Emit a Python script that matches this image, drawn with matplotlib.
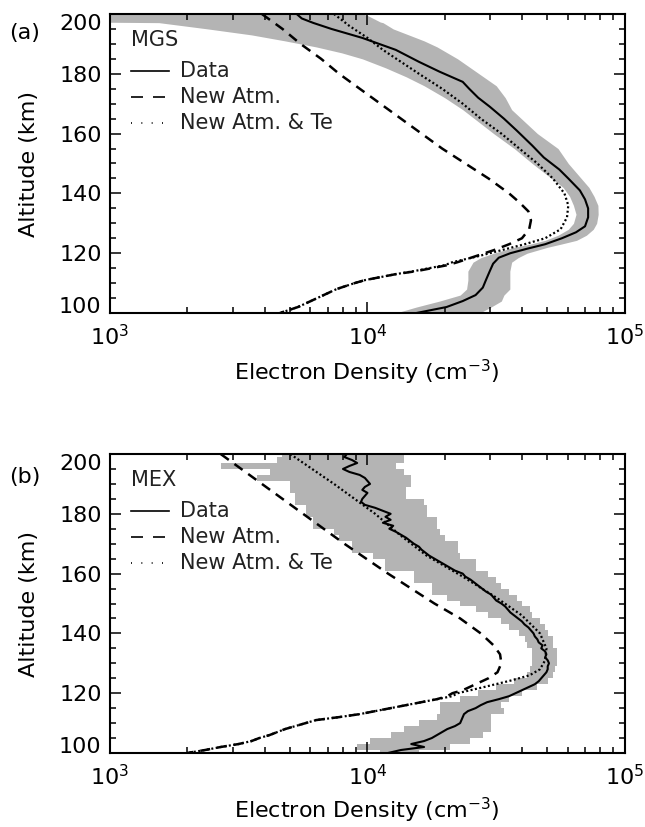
"""
    Electron density profiles, MGS and MEX
"""

import numpy as np
import matplotlib
matplotlib.use('Agg')
import matplotlib.pyplot as plt
from matplotlib.ticker import MultipleLocator, LogLocator, NullFormatter

plt.rcParams['font.family'] = ['DejaVu Sans']

# ---- panel (a): MGS, values are log10(Ne) ----
mgs_data_alt = [200, 198.5, 197, 195, 192, 188, 184, 180.7, 177.3, 175, 172, 169, 165, 161, 156, 152,
                148, 145, 141, 138, 135, 132, 129, 127, 125, 123, 121.5, 120, 118.5, 116.5, 114, 111,
                108.5, 106, 104, 102, 100]
mgs_data_log = [3.725, 3.745, 3.79, 3.86, 3.98, 4.11, 4.20, 4.28, 4.37, 4.395, 4.43, 4.475, 4.53, 4.58,
                4.64, 4.685, 4.745, 4.78, 4.825, 4.845, 4.857, 4.857, 4.845, 4.81, 4.755, 4.69, 4.62,
                4.555, 4.51, 4.488, 4.475, 4.46, 4.448, 4.42, 4.37, 4.307, 4.19]

mgs_band_alt = [200, 199.5, 197.3, 197.1, 195, 193, 191, 189, 187, 185, 182, 179, 176, 172, 168, 164,
                160, 155, 150, 146, 142, 139, 136, 133, 130, 128, 126, 124.3, 123, 122, 121, 120,
                118.5, 117, 114, 111, 108, 106, 104, 102, 100]
mgs_band_lo = [2.9, 2.9, 2.9, 3.19, 3.38, 3.55, 3.68, 3.80, 3.90, 3.98, 4.07, 4.15, 4.22, 4.30, 4.37,
               4.43, 4.49, 4.57, 4.64, 4.70, 4.76, 4.785, 4.80, 4.81, 4.80, 4.78, 4.74, 4.69, 4.63,
               4.57, 4.53, 4.49, 4.44, 4.41, 4.39, 4.39, 4.385, 4.36, 4.28, 4.19, 4.11]
mgs_band_hi = [3.98, 4.00, 4.05, 4.06, 4.10, 4.16, 4.22, 4.27, 4.31, 4.35, 4.40, 4.45, 4.50, 4.535,
               4.56, 4.61, 4.66, 4.74, 4.78, 4.82, 4.86, 4.88, 4.895, 4.896, 4.89, 4.877, 4.85, 4.812,
               4.75, 4.70, 4.66, 4.62, 4.585, 4.56, 4.553, 4.553, 4.553, 4.53, 4.52, 4.48, 4.436]

mgs_atm_alt = [200, 195, 190, 185, 180, 175, 170, 165, 160, 155, 150, 145, 140, 137, 134, 131, 128,
               125, 123, 121, 119, 117, 116, 115, 114, 113, 112, 111, 110, 108, 106, 104, 102, 100]
mgs_atm_log = [3.59, 3.67, 3.74, 3.82, 3.89, 3.97, 4.05, 4.13, 4.21, 4.29, 4.38, 4.47, 4.55, 4.59,
               4.625, 4.635, 4.628, 4.60, 4.55, 4.49, 4.42, 4.35, 4.31, 4.25, 4.19, 4.11, 4.05, 3.99,
               3.95, 3.88, 3.83, 3.78, 3.73, 3.66]

mgs_te_alt = [200, 196, 192, 188, 184, 180, 175, 170, 165, 160, 155, 150, 145, 140, 136, 132, 128,
              125, 123, 121, 119, 117, 116, 115, 114, 113, 112, 111, 110, 108, 106, 104, 102, 100]
mgs_te_log = [3.87, 3.93, 4.00, 4.06, 4.13, 4.20, 4.29, 4.37, 4.44, 4.52, 4.59, 4.66, 4.72, 4.765,
              4.78, 4.775, 4.75, 4.69, 4.61, 4.52, 4.43, 4.33, 4.30, 4.24, 4.18, 4.11, 4.05, 3.99,
              3.95, 3.88, 3.83, 3.78, 3.73, 3.66]

# ---- panel (b): MEX ----
mex_data_alt = list(range(200, 99, -1))
mex_data_log = [3.92, 3.91, 3.94, 3.96, 3.93, 3.905, 3.93, 3.97, 3.99, 4.00, 4.01, 3.99, 3.98, 4.00,
                3.99, 3.98, 3.975, 3.99, 4.03, 4.06, 4.09, 4.07, 4.09, 4.06, 4.10, 4.085, 4.11, 4.13,
                4.15, 4.165, 4.18, 4.20, 4.21, 4.225, 4.24, 4.26, 4.28, 4.30, 4.32, 4.34, 4.37, 4.38,
                4.40, 4.415, 4.43, 4.445, 4.46, 4.48, 4.49, 4.50, 4.52, 4.535, 4.545, 4.555, 4.57,
                4.585, 4.60, 4.61, 4.625, 4.635, 4.645, 4.65, 4.66, 4.665, 4.68, 4.675, 4.69, 4.695,
                4.69, 4.70, 4.705, 4.70, 4.70, 4.695, 4.685, 4.675, 4.665, 4.65, 4.625, 4.60, 4.575,
                4.55, 4.51, 4.465, 4.44, 4.42, 4.39, 4.375, 4.37, 4.365, 4.36, 4.34, 4.31, 4.29, 4.27,
                4.25, 4.22, 4.17, 4.22, 4.13, 4.08]

mex_band_alt = list(range(200, 99, -2))
mex_band_lo = [3.67, 3.65, 3.43, 3.62, 3.57, 3.70, 3.70, 3.72, 3.72, 3.76, 3.76, 3.79, 3.79, 3.87,
               3.89, 3.94, 3.94, 4.02, 4.07, 4.07, 4.18, 4.18, 4.25, 4.25, 4.31, 4.36, 4.42, 4.47,
               4.52, 4.55, 4.59, 4.61, 4.62, 4.64, 4.64, 4.64, 4.63, 4.62, 4.57, 4.50, 4.43, 4.36,
               4.28, 4.28, 4.27, 4.20, 4.14, 4.09, 4.01, 3.96, 4.05]
mex_band_hi = [4.14, 4.14, 4.11, 4.14, 4.17, 4.17, 4.15, 4.15, 4.22, 4.23, 4.23, 4.27, 4.27, 4.28,
               4.30, 4.35, 4.35, 4.36, 4.42, 4.42, 4.47, 4.50, 4.52, 4.55, 4.58, 4.60, 4.63, 4.64,
               4.67, 4.69, 4.70, 4.72, 4.72, 4.735, 4.735, 4.735, 4.73, 4.72, 4.70, 4.66, 4.60, 4.55,
               4.52, 4.53, 4.48, 4.48, 4.48, 4.45, 4.40, 4.32, 4.20]

mex_atm_alt = [200, 190, 180, 170, 160, 150, 145, 140, 136, 133, 130, 127, 125, 123, 121, 120, 119,
               118, 117, 116, 115, 114, 113, 112, 111, 110, 109, 108, 107, 106, 105, 104, 103, 102,
               101, 100]
mex_atm_log = [3.43, 3.59, 3.75, 3.91, 4.08, 4.26, 4.36, 4.44, 4.49, 4.515, 4.52, 4.505, 4.47, 4.42,
               4.37, 4.33, 4.31, 4.27, 4.21, 4.15, 4.09, 4.03, 3.97, 3.89, 3.80, 3.76, 3.72, 3.68,
               3.65, 3.62, 3.58, 3.55, 3.50, 3.43, 3.37, 3.30]

mex_te_alt = [200, 190, 180, 173, 166, 159, 152, 146, 140, 135, 131, 128, 126, 124.3, 122, 120, 119,
              118, 117, 116, 115, 114, 113, 112, 111, 110, 109, 108, 107, 106, 105, 104, 103, 102,
              101, 100]
mex_te_log = [3.70, 3.87, 4.03, 4.125, 4.23, 4.37, 4.50, 4.60, 4.67, 4.695, 4.69, 4.67, 4.63, 4.56,
              4.45, 4.35, 4.33, 4.27, 4.21, 4.15, 4.09, 4.03, 3.97, 3.89, 3.80, 3.76, 3.72, 3.68,
              3.65, 3.62, 3.58, 3.55, 3.50, 3.43, 3.37, 3.30]

xtick_vals = [1e3, 1e4, 1e5]
ytick_vals = [100, 120, 140, 160, 180, 200]
legend_names = ['Data', 'New Atm.', 'New Atm. & Te']

GRAY = '#b4b4b4'
FS = 16


def panel(ax, tag, d_alt, d_log, b_alt, b_lo, b_hi, a_alt, a_log, t_alt, t_log, step):
    ax.fill_betweenx(b_alt, 10 ** np.array(b_lo), 10 ** np.array(b_hi), color=GRAY, lw=0,
                     step=step)
    ax.plot(10 ** np.array(a_log), a_alt, color='k', lw=1.8, ls=(0, (4, 2.8)))
    ax.plot(10 ** np.array(t_log), t_alt, color='k', lw=1.6, ls=(0, (0.9, 1.1)))
    ax.plot(10 ** np.array(d_log), d_alt, color='k', lw=1.5)

    ax.set_xscale('log')
    ax.set_xlim(1e3, 1e5)
    ax.set_ylim(100, 200)
    ax.set_xticks(xtick_vals)
    ax.xaxis.set_minor_locator(LogLocator(base=10, subs=np.arange(2, 10)))
    ax.xaxis.set_minor_formatter(NullFormatter())
    ax.set_yticks(ytick_vals)
    ax.yaxis.set_minor_locator(MultipleLocator(5))
    ax.tick_params(which='both', direction='in', top=True, right=True, labelsize=FS, width=1.1)
    ax.tick_params(which='major', length=8)
    ax.tick_params(which='minor', length=4)
    ax.tick_params(axis='x', pad=8)
    ax.tick_params(axis='y', pad=6)
    for s in ax.spines.values():
        s.set_linewidth(1.5)

    # IDL style: end labels pulled inside the axis range
    yt = ax.yaxis.get_major_ticks()
    yt[0].label1.set_va('baseline')
    yt[-1].label1.set_va('top')

    # legend
    ax.text(0.041, 0.912, tag, transform=ax.transAxes, fontsize=15, va='center', color='#222222')
    rows = [0.808, 0.722, 0.635]
    styles = [dict(ls='-'), dict(ls=(0, (7.2, 6))), dict(ls=(0, (0.6, 5.6)))]
    for y, name, st in zip(rows, legend_names, styles):
        ax.plot([0.041, 0.115], [y, y], transform=ax.transAxes, color='k', lw=1.2, **st)
        ax.text(0.136, y, name, transform=ax.transAxes, fontsize=15, va='center', color='#222222')


fig = plt.figure(figsize=(6.45, 8.27), dpi=100)
ax1 = fig.add_axes([0.1705, 0.6215, 0.7984, 0.3616])
ax2 = fig.add_axes([0.1705, 0.0895, 0.7984, 0.3615])

panel(ax1, 'MGS', mgs_data_alt, mgs_data_log, mgs_band_alt, mgs_band_lo, mgs_band_hi,
      mgs_atm_alt, mgs_atm_log, mgs_te_alt, mgs_te_log, None)
panel(ax2, 'MEX', mex_data_alt, mex_data_log, mex_band_alt, mex_band_lo, mex_band_hi,
      mex_atm_alt, mex_atm_log, mex_te_alt, mex_te_log, 'mid')

fig.text(25 / 645, 1 - 33 / 827, '(a)', fontsize=FS, ha='center', va='center')
fig.text(25 / 645, 1 - 477 / 827, '(b)', fontsize=FS, ha='center', va='center')
for yc in [164, 604]:
    fig.text(29 / 645, 1 - yc / 827, 'Altitude (km)', fontsize=FS, rotation=90,
             ha='center', va='center')
for yc in [372, 810]:
    fig.text(367 / 645, 1 - yc / 827, 'Electron Density (cm$^{-3}$)', fontsize=FS,
             ha='center', va='center')

plt.savefig('out.png', dpi=100)
